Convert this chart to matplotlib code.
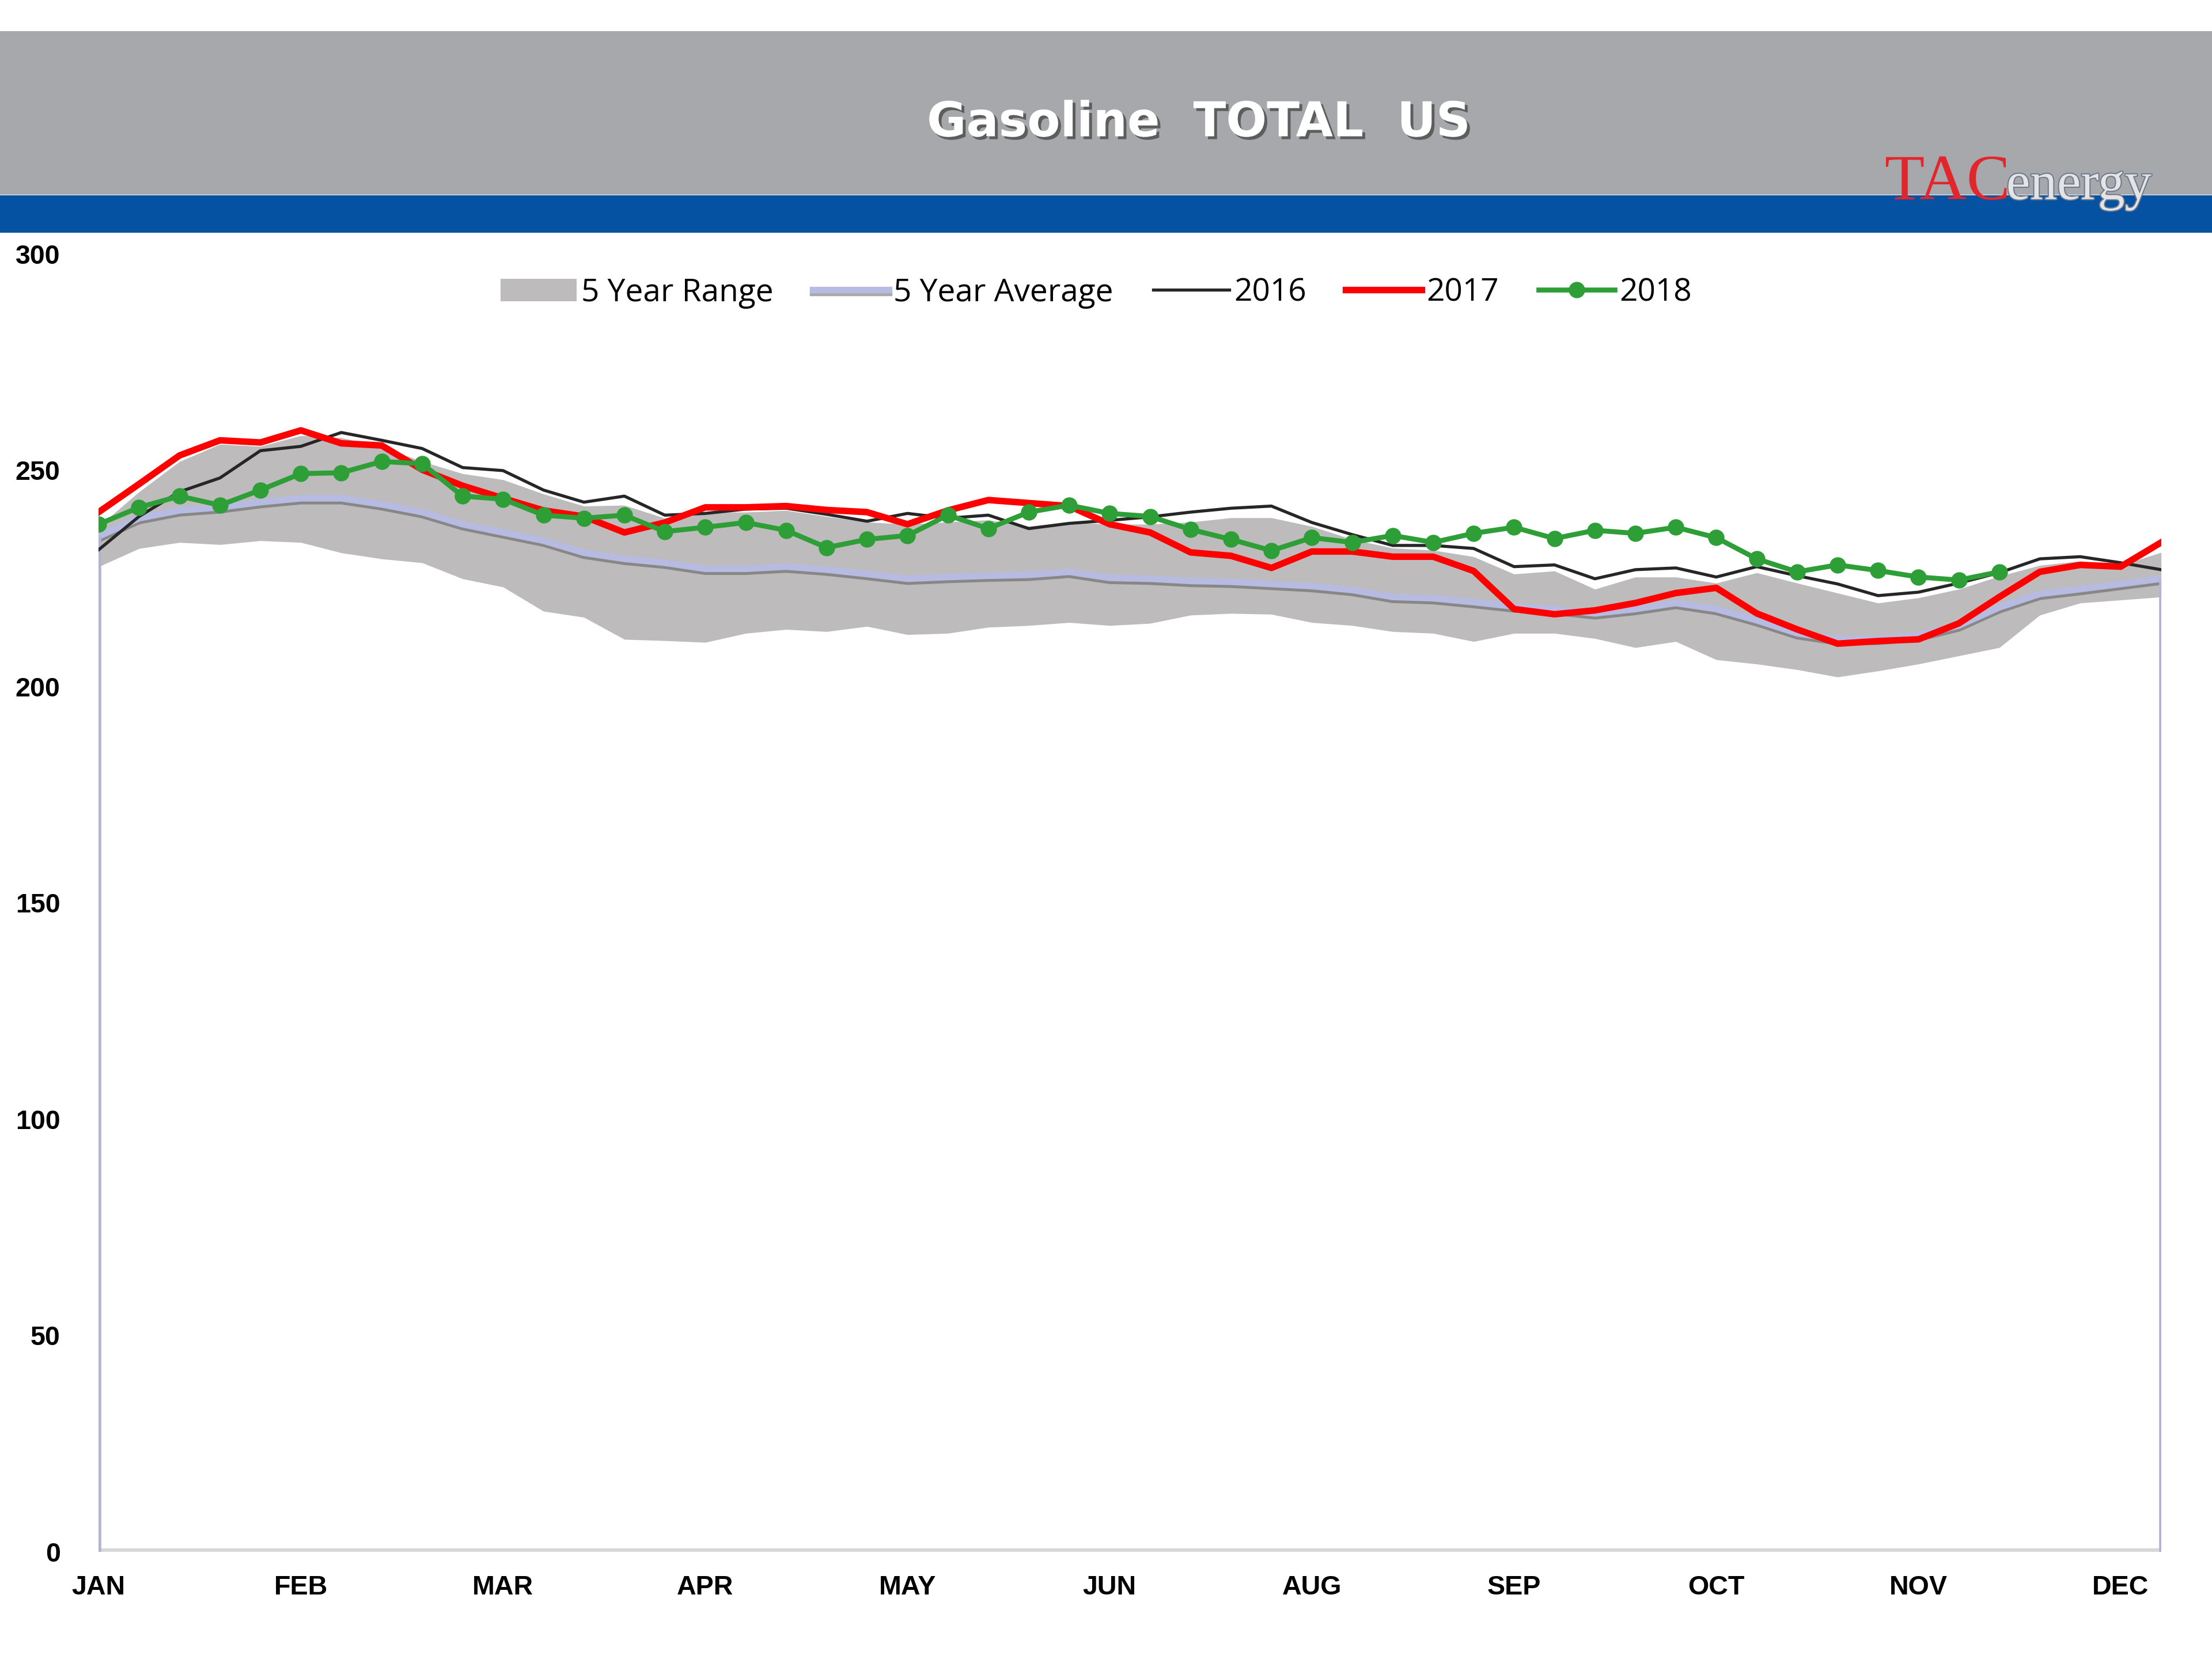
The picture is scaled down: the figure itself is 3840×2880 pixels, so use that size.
import matplotlib
matplotlib.use("Agg")
import matplotlib.pyplot as plt
import matplotlib.patheffects as pe
from matplotlib.patches import Rectangle
import numpy as np

# weekly data, 52 weeks
months = ["JAN", "FEB", "MAR", "APR", "MAY", "JUN", "AUG", "SEP", "OCT", "NOV", "DEC"]
month_pos = [0, 5, 10, 15, 20, 25, 30, 35, 40, 45, 50]

range_min = [227.7, 231.9, 233.3, 232.8, 233.7, 233.3, 230.9, 229.5, 228.6, 224.9,
             223.0, 217.4, 216.0, 210.9, 210.6, 210.2, 212.3, 213.2, 212.7, 213.9,
             212.0, 212.3, 213.7, 214.1, 214.8, 214.1, 214.6, 216.5, 216.9, 216.7,
             214.8, 214.1, 212.7, 212.3, 210.4, 212.3, 212.3, 211.1, 209.0, 210.4,
             206.2, 205.2, 203.9, 202.2, 203.6, 205.2, 207.1, 209.0, 216.5, 219.3,
             220.0, 220.7]
range_max = [237.0, 245.0, 252.0, 256.0, 255.5, 258.0, 257.5, 255.5, 252.0, 249.2,
             247.8, 244.5, 241.7, 241.9, 238.9, 240.3, 240.3, 240.7, 239.3, 238.0,
             237.5, 238.0, 238.5, 237.0, 238.0, 237.5, 237.5, 238.0, 239.0, 239.0,
             237.0, 234.0, 232.0, 231.5, 230.0, 226.0, 226.7, 222.5, 225.3, 225.3,
             223.9, 226.3, 223.9, 221.6, 219.3, 220.5, 222.5, 225.5, 228.0, 229.0,
             228.0, 231.0]
avg5 = [234.7, 238.9, 240.7, 241.4, 242.6, 243.5, 243.5, 242.1, 240.3, 237.5,
        235.6, 233.7, 230.9, 229.5, 228.6, 227.2, 227.2, 227.7, 227.0, 226.0,
        224.9, 225.3, 225.6, 225.8, 226.5, 225.1, 224.9, 224.4, 224.2, 223.7,
        223.2, 222.3, 220.7, 220.4, 219.5, 218.5, 217.9, 216.9, 217.9, 219.3,
        217.9, 215.3, 212.3, 210.9, 211.0, 211.8, 214.1, 218.3, 221.4, 222.5,
        223.7, 224.9]
y2016 = [231.6, 239.3, 245.0, 248.2, 254.5, 255.5, 258.7, 256.9, 255.0, 250.6,
         249.9, 245.4, 242.6, 244.0, 239.6, 240.0, 241.0, 241.2, 239.8, 238.2,
         240.0, 238.9, 239.6, 236.5, 237.7, 238.4, 239.2, 240.3, 241.2, 241.7,
         237.9, 235.1, 232.6, 232.6, 231.9, 227.7, 228.1, 224.9, 227.0, 227.4,
         225.3, 227.7, 225.6, 223.7, 221.0, 221.8, 223.9, 226.3, 229.5, 230.0,
         228.6, 227.0]
y2017 = [240.3, 246.8, 253.4, 256.9, 256.4, 259.2, 256.2, 255.7, 250.1, 246.4,
         243.5, 240.7, 239.3, 235.6, 237.9, 241.4, 241.4, 241.7, 240.8, 240.3,
         237.5, 240.7, 243.1, 242.4, 241.7, 237.5, 235.6, 231.0, 230.2, 227.4,
         231.2, 231.2, 230.0, 230.0, 226.7, 217.9, 216.7, 217.6, 219.3, 221.6,
         222.8, 216.9, 213.2, 209.9, 210.5, 210.9, 214.6, 220.7, 226.5, 228.1,
         227.7, 233.3]
y2018 = [237.5, 241.4, 244.0, 241.9, 245.4, 249.2, 249.4, 252.0, 251.5, 244.0,
         243.3, 239.6, 238.9, 239.6, 235.8, 236.8, 237.9, 236.1, 232.1, 234.0,
         234.9, 239.6, 236.5, 240.3, 241.9, 240.0, 239.3, 236.3, 234.0, 231.4,
         234.4, 233.3, 234.9, 233.3, 235.4, 236.8, 234.2, 236.1, 235.4, 236.8,
         234.4, 229.5, 226.5, 228.1, 226.8, 225.3, 224.6, 226.5]

weeks = np.arange(len(avg5))
weeks18 = np.arange(len(y2018))

narrow = ["Liberation Sans Narrow", "Liberation Sans", "DejaVu Sans"]

fig = plt.figure(figsize=(16, 12), dpi=240)

# header banner
fig.patches.append(Rectangle((0, 0.8827), 1, 0.0986, transform=fig.transFigure,
                             facecolor="#a7a8ac", edgecolor="none", zorder=0))
fig.patches.append(Rectangle((0, 0.8597), 1, 0.0225, transform=fig.transFigure,
                             facecolor="#0452a1", edgecolor="none", zorder=0))
fig.text(0.542, 0.926, "Gasoline  TOTAL  US", ha="center", va="center",
         fontsize=25, fontweight="bold", color="white", family="DejaVu Sans",
         path_effects=[pe.SimplePatchShadow(offset=(1.5, -1.5), shadow_rgbFace="#4a4a4a", alpha=0.8),
                       pe.Normal()])
fig.text(0.852, 0.880, "TAC", ha="left", va="baseline", fontsize=34,
         color="#e3262c", family="Liberation Serif")
fig.text(0.907, 0.880, "energy", ha="left", va="baseline", fontsize=28,
         color="#e4e4e6", family="Liberation Serif",
         path_effects=[pe.withStroke(linewidth=1.2, foreground="#6d7a8c")])

ax = fig.add_axes([0.0446, 0.0646, 0.9324, 0.7824])

ax.fill_between(weeks, range_min, range_max, color="#bdbbbb", lw=0, zorder=1,
                label="5 Year Range")
ax.plot(weeks, avg5, color="#b7bbe2", lw=3.4, zorder=2, label="5 Year Average",
        path_effects=[pe.SimpleLineShadow(offset=(0, -1.5), shadow_color="#555555", alpha=0.5),
                      pe.Normal()])
ax.vlines([weeks[0], weeks[-1]], 0, [avg5[0], avg5[-1]], color="#b1b4d6", lw=2.6, zorder=2)
ax.axhline(0, color="#d8d8d8", lw=4, zorder=1)
ax.plot(weeks, y2016, color="#262626", lw=1.6, zorder=3, label="2016")
ax.plot(weeks, y2017, color="#ff0000", lw=3.4, zorder=4, label="2017")
ax.plot(weeks18, y2018, color="#2e9e37", lw=2.6, marker="o", markersize=7.5,
        zorder=5, label="2018")

ax.set_xlim(0, 51)
ax.set_ylim(0, 300)
ax.set_yticks(range(0, 301, 50))
ax.set_xticks(month_pos)
ax.set_xticklabels(months)
for s in ax.spines.values():
    s.set_visible(False)
ax.tick_params(axis="y", length=0, pad=20)
ax.tick_params(axis="x", length=0, pad=12)
for lab in ax.get_yticklabels() + ax.get_xticklabels():
    lab.set_fontweight("bold")
    lab.set_fontsize(14)
    lab.set_family(narrow)

leg = ax.legend(loc="center", bbox_to_anchor=(0.4836, 0.970), ncol=5, frameon=False,
                handlelength=2.4, columnspacing=1.25, handletextpad=0.15,
                prop={"family": "Open Sans", "size": 16.5})

fig.savefig("out.png", dpi=240, facecolor="white")
